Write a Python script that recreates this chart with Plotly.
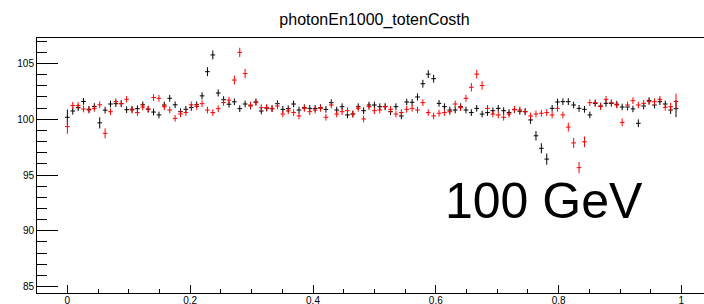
import plotly.graph_objects as go

# ---- data ----
n_bins = 114
cos_theta = [i / n_bins for i in range(n_bins)]

black_vals = [
    100.18, 100.74, 101.05, 101.60, 100.90, 101.15, 99.68, 100.82, 101.37, 101.40,
    101.40, 100.86, 100.90, 100.95, 101.30, 100.90, 100.65, 100.39, 101.28, 101.88,
    101.30, 100.68, 100.90, 101.05, 101.30, 102.10, 104.27, 105.77, 102.36, 101.76,
    101.35, 101.57, 100.95, 101.37, 101.20, 101.55, 100.74, 101.00, 100.95, 101.40,
    100.89, 100.95, 101.37, 100.83, 101.04, 100.98, 100.98, 101.04, 100.89, 101.49,
    100.83, 101.13, 100.39, 100.47, 101.13, 100.77, 101.28, 101.28, 101.13, 101.13,
    100.68, 101.13, 100.30, 101.55, 101.52, 102.00, 103.19, 104.05, 103.64, 101.43,
    101.13, 100.83, 100.83, 101.13, 100.83, 100.60, 100.98, 100.47, 100.60, 100.77,
    100.98, 100.77, 100.60, 100.86, 100.72, 100.68, 99.94, 98.52, 97.40, 96.43,
    100.98, 101.55, 101.58, 101.58, 101.28, 100.98, 100.89, 100.39, 101.43, 101.19,
    101.43, 101.43, 101.35, 101.10, 101.10, 100.93, 99.64, 101.19, 101.67, 101.28,
    101.58, 101.37, 100.83, 100.95,
]
black_err = [
    0.70, 0.32, 0.30, 0.30, 0.30, 0.30, 0.50, 0.30, 0.30, 0.30,
    0.30, 0.30, 0.30, 0.30, 0.30, 0.30, 0.30, 0.30, 0.30, 0.30,
    0.30, 0.30, 0.30, 0.30, 0.30, 0.32, 0.40, 0.40, 0.32, 0.30,
    0.30, 0.30, 0.30, 0.30, 0.30, 0.30, 0.30, 0.30, 0.30, 0.30,
    0.30, 0.30, 0.30, 0.30, 0.30, 0.30, 0.30, 0.30, 0.30, 0.30,
    0.30, 0.30, 0.30, 0.30, 0.30, 0.30, 0.30, 0.30, 0.30, 0.30,
    0.30, 0.30, 0.30, 0.30, 0.30, 0.32, 0.35, 0.35, 0.35, 0.30,
    0.30, 0.30, 0.30, 0.30, 0.30, 0.30, 0.30, 0.30, 0.30, 0.30,
    0.30, 0.30, 0.30, 0.30, 0.30, 0.30, 0.35, 0.42, 0.45, 0.50,
    0.30, 0.30, 0.30, 0.30, 0.30, 0.30, 0.30, 0.30, 0.30, 0.30,
    0.30, 0.30, 0.30, 0.30, 0.30, 0.30, 0.35, 0.30, 0.30, 0.30,
    0.30, 0.30, 0.35, 0.75,
]

red_vals = [
    99.34, 101.23, 101.23, 100.92, 100.83, 100.98, 101.30, 98.74, 100.68, 101.58,
    101.40, 101.79, 100.83, 100.60, 101.10, 100.92, 101.95, 101.88, 101.13, 100.83,
    100.08, 100.48, 100.60, 101.30, 101.15, 101.40, 100.83, 100.60, 100.95, 101.50,
    101.72, 103.52, 106.00, 104.10, 101.28, 101.52, 101.04, 101.05, 100.95, 101.19,
    100.47, 100.75, 100.60, 100.30, 100.98, 100.68, 100.83, 100.98, 100.18, 101.28,
    100.47, 100.68, 100.77, 100.47, 100.98, 100.03, 101.13, 100.77, 100.83, 101.13,
    100.89, 100.47, 100.60, 100.89, 100.98, 100.83, 101.49, 100.60, 100.30, 100.54,
    100.60, 100.68, 101.37, 101.04, 101.88, 102.87, 104.05, 103.03, 100.98, 100.47,
    100.39, 100.18, 100.47, 100.89, 100.83, 100.68, 100.30, 100.47, 100.54, 100.60,
    100.39, 100.98, 100.39, 99.30, 97.88, 95.66, 97.98, 101.49, 101.49, 101.15,
    101.79, 101.49, 101.28, 99.72, 101.28, 101.67, 101.28, 101.43, 101.58, 101.58,
    101.79, 101.07, 101.13, 101.60,
]
red_err = [
    0.65, 0.32, 0.30, 0.30, 0.30, 0.30, 0.30, 0.45, 0.30, 0.30,
    0.30, 0.30, 0.30, 0.30, 0.30, 0.30, 0.30, 0.30, 0.30, 0.30,
    0.30, 0.30, 0.30, 0.30, 0.30, 0.30, 0.30, 0.30, 0.30, 0.30,
    0.30, 0.40, 0.42, 0.42, 0.30, 0.30, 0.30, 0.30, 0.30, 0.30,
    0.30, 0.30, 0.30, 0.30, 0.30, 0.30, 0.30, 0.30, 0.30, 0.30,
    0.30, 0.30, 0.30, 0.30, 0.30, 0.30, 0.30, 0.30, 0.30, 0.30,
    0.30, 0.30, 0.30, 0.30, 0.30, 0.30, 0.30, 0.30, 0.30, 0.30,
    0.30, 0.30, 0.30, 0.30, 0.32, 0.38, 0.38, 0.38, 0.30, 0.30,
    0.30, 0.30, 0.30, 0.30, 0.30, 0.30, 0.30, 0.30, 0.30, 0.30,
    0.30, 0.30, 0.30, 0.40, 0.45, 0.50, 0.48, 0.30, 0.30, 0.30,
    0.30, 0.30, 0.30, 0.35, 0.30, 0.30, 0.30, 0.30, 0.30, 0.30,
    0.30, 0.30, 0.35, 0.70,
]
x_half_width = 0.0038

title_text = "photonEn1000_totenCosth"
label_text = "100 GeV"
x_tickvals = [0, 0.2, 0.4, 0.6, 0.8, 1]
x_ticktext = ["0", "0.2", "0.4", "0.6", "0.8", "1"]

FONT = "Liberation Sans, Arial, Helvetica, sans-serif"

fig = go.Figure()
for vals, errs, col in ((black_vals, black_err, "#000000"), (red_vals, red_err, "#ff0000")):
    fig.add_trace(go.Scatter(
        x=cos_theta, y=vals, mode="markers",
        marker=dict(size=0.1, color=col, opacity=0),
        error_y=dict(type="data", array=errs, symmetric=True, width=0,
                     thickness=1, color=col),
        error_x=dict(type="constant", value=x_half_width, width=0,
                     thickness=1, color=col),
        showlegend=False, hoverinfo="skip",
    ))

fig.add_annotation(
    x=0.6125, y=92.63, xref="x", yref="y", text=label_text, showarrow=False,
    xanchor="left", yanchor="middle",
    font=dict(family=FONT, size=50, color="#000000"),
)

fig.update_layout(
    template="none",
    width=704, height=304,
    margin=dict(l=37, r=0, t=38, b=11, pad=0),
    paper_bgcolor="white", plot_bgcolor="white",
    title=dict(text=title_text, x=0.532, xanchor="center", y=0.9375,
               yanchor="middle", yref="container",
               font=dict(family=FONT, size=16, color="#000000")),
    xaxis=dict(
        range=[-0.0495, 1.0368], showgrid=False, zeroline=False,
        showline=True, linecolor="black", linewidth=1, mirror=True,
        ticks="inside", ticklen=8, tickwidth=1, tickcolor="black",
        tickvals=x_tickvals, ticktext=x_ticktext, ticklabelstandoff=-2,
        tickfont=dict(family=FONT, size=10, color="#000000"),
        minor=dict(dtick=0.05, tick0=0, ticks="inside", ticklen=4,
                   tickwidth=1, tickcolor="black", showgrid=False),
        automargin=False,
    ),
    yaxis=dict(
        range=[84.42, 107.29], showgrid=False, zeroline=False,
        showline=True, linecolor="black", linewidth=1, mirror=False,
        ticks="inside", ticklen=21, tickwidth=1, tickcolor="black",
        dtick=5, tick0=0,
        tickfont=dict(family=FONT, size=10, color="#000000"),
        minor=dict(dtick=1, tick0=0, ticks="inside", ticklen=10,
                   tickwidth=1, tickcolor="black", showgrid=False),
        automargin=False,
    ),
)

fig.write_html(
    "out.html",
    config={"displayModeBar": False, "staticPlot": True},
    post_script="document.body.style.margin='0px';document.body.style.overflow='hidden';",
)
